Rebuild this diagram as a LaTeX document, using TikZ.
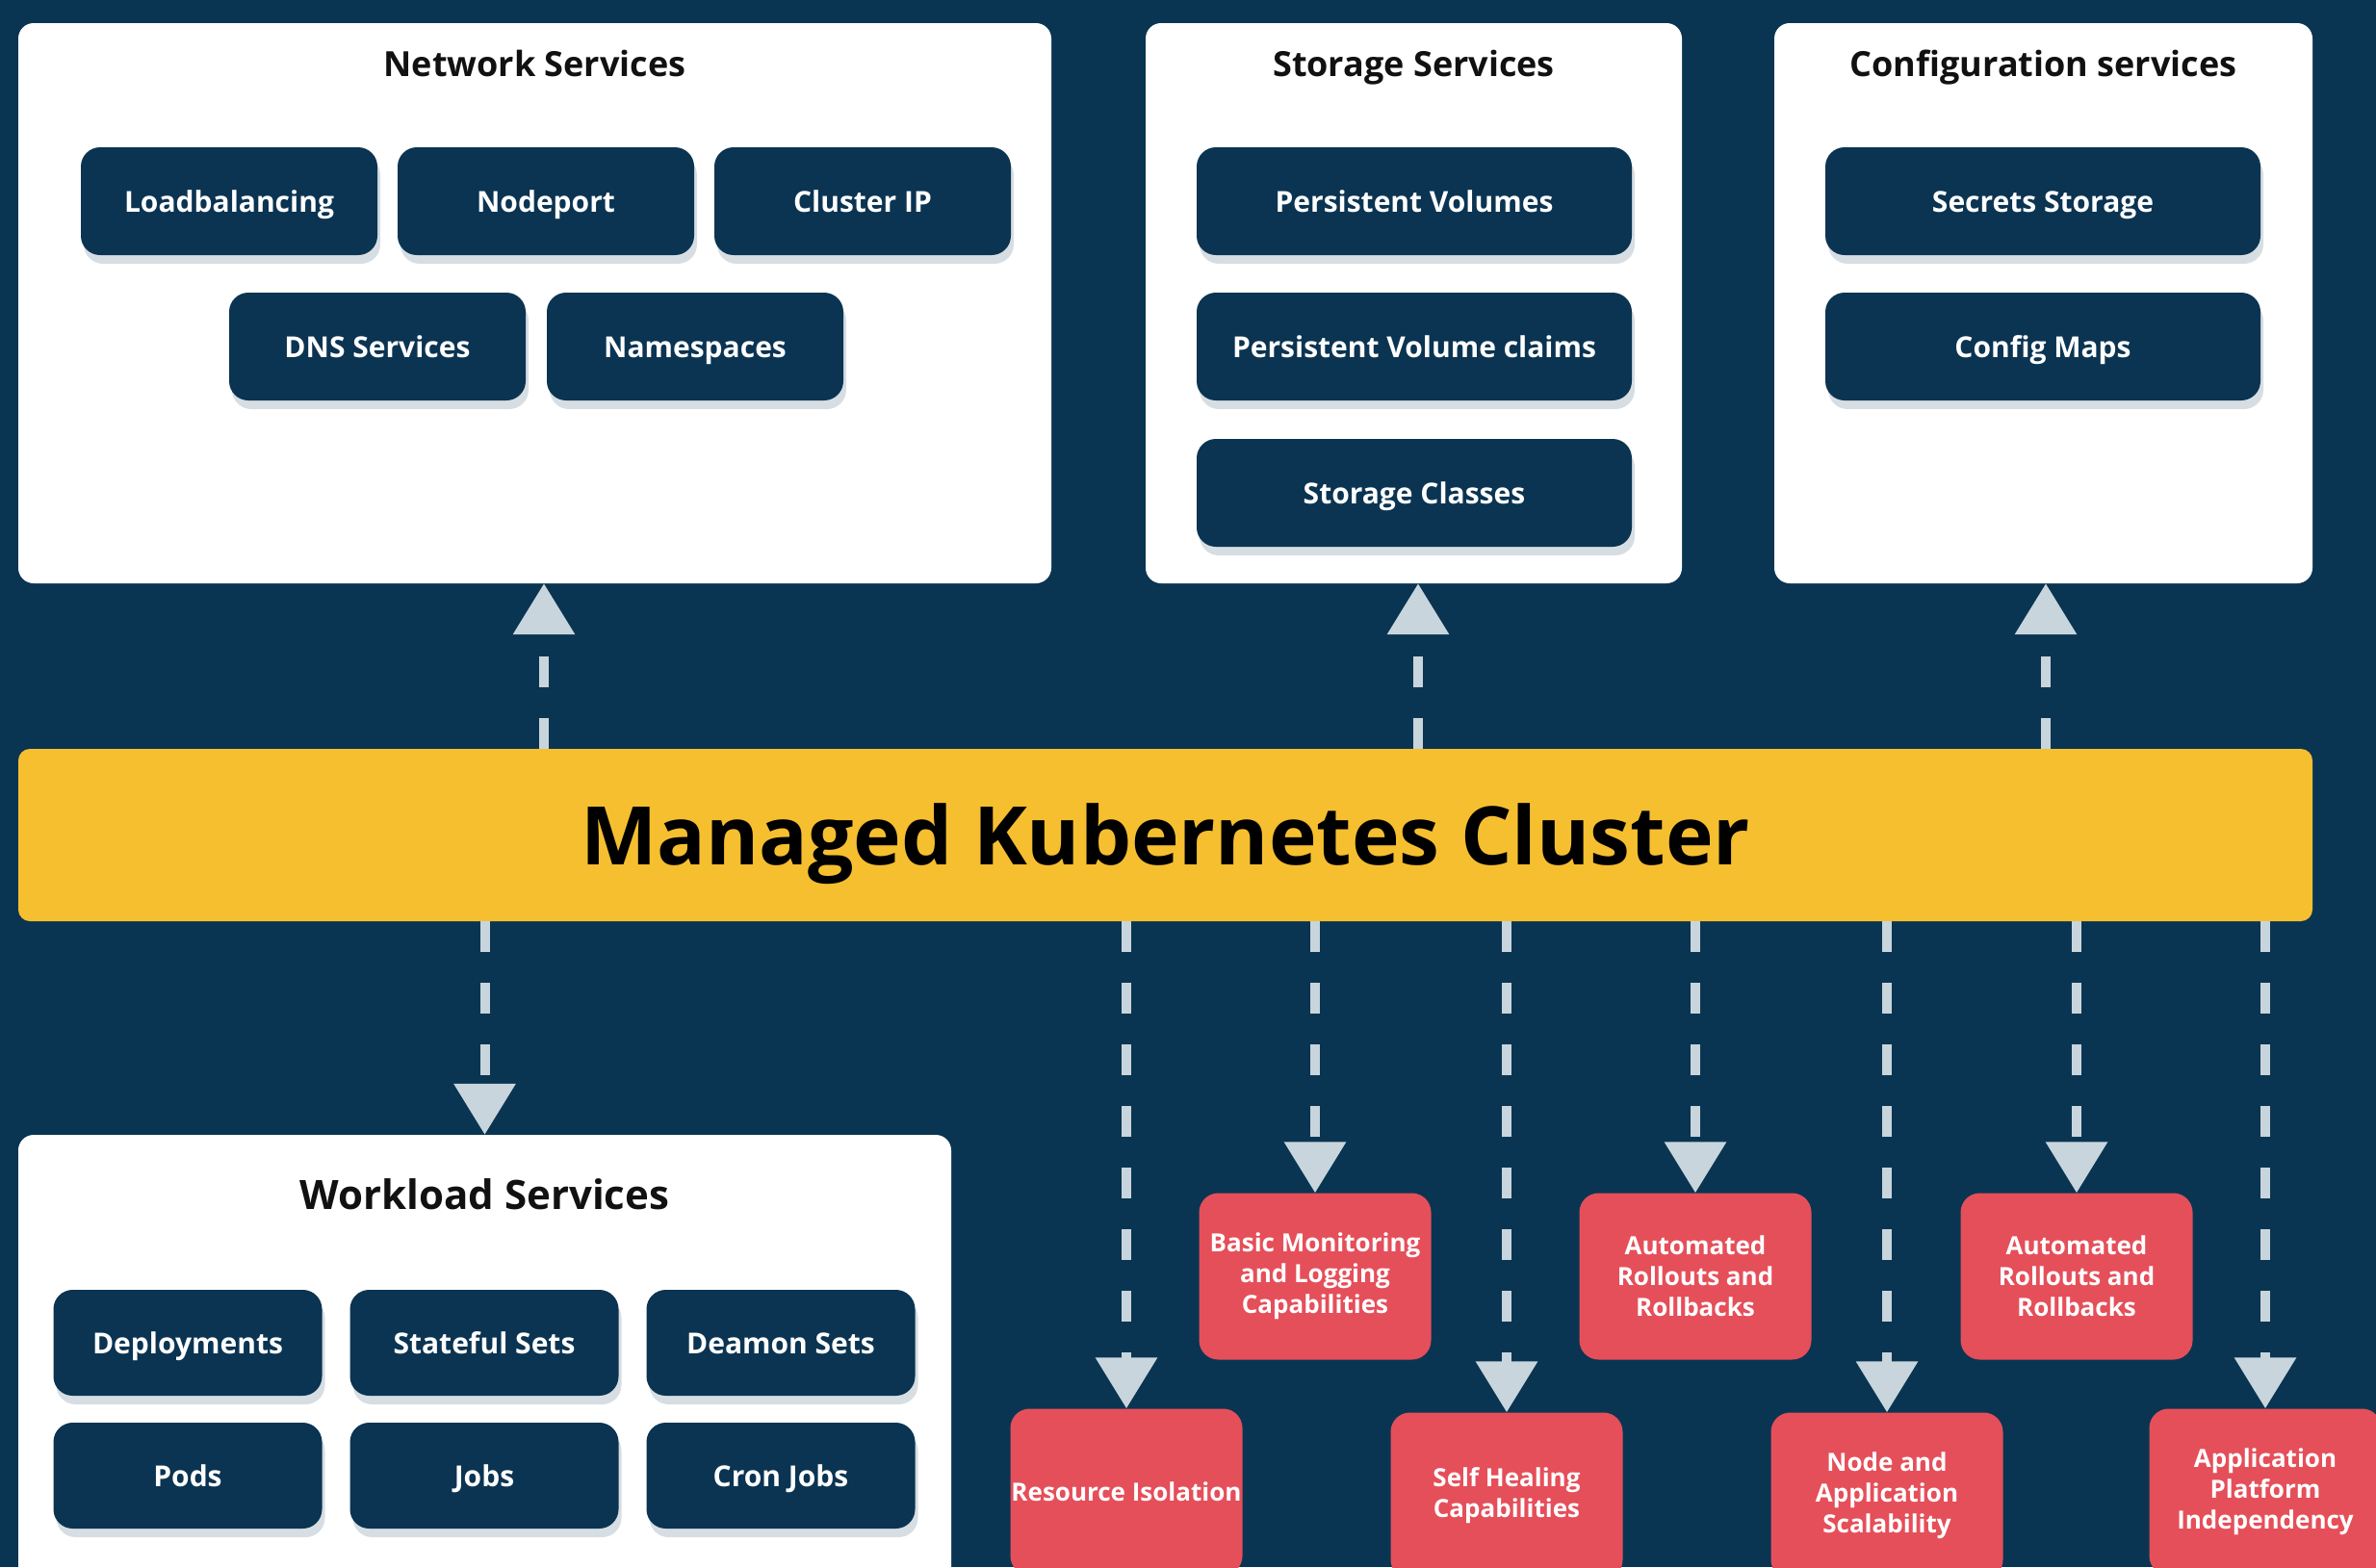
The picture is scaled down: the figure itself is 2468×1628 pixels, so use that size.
\documentclass[tikz,border=0pt]{standalone}
\usepackage{fontspec}
\setmainfont{Open Sans}
\usetikzlibrary{arrows.meta,shadows}
\definecolor{bg}{HTML}{0A3552}
\definecolor{boxnavy}{HTML}{0B3452}
\definecolor{clusteryellow}{HTML}{F6BF30}
\definecolor{redc}{HTML}{E54F5A}
\definecolor{arrowc}{HTML}{C8D5DD}
\definecolor{titleblack}{HTML}{111111}
\begin{document}
\begin{tikzpicture}[x=1pt,y=-1pt,
  panel/.style={fill=white, rounded corners=16pt, inner sep=0pt},
  paneltitle/.style={text=titleblack, font=\bfseries\fontsize{36}{42}\selectfont, inner sep=0pt,
    text height=26pt, text depth=0pt, anchor=center},
  navybox/.style={fill=boxnavy, rounded corners=20pt, text=white, inner sep=0pt,
    font=\bfseries\fontsize{30}{36}\selectfont, minimum height=112pt,
    text height=22pt, text depth=0pt,
    drop shadow={shadow xshift=3pt, shadow yshift=-9pt, opacity=0.16, fill=bg}},
  redbox/.style={fill=redc, rounded corners=20pt, text=white, align=center, inner sep=0pt,
    font=\bfseries\fontsize{26}{32}\selectfont, minimum width=241pt, minimum height=173pt},
  flow/.style={draw=arrowc, line width=10pt, dash pattern=on 32pt off 32pt,
    -{Triangle[width=62pt,length=53pt]}}
]
\useasboundingbox (0,0) rectangle (2468,1628);
\clip (0,0) rectangle (2468,1628);
\fill[bg] (0,0) rectangle (2468,1628);

% panels
\node[panel, minimum width=1073pt, minimum height=582pt] (net) at (555.5,315) {};
\node[panel, minimum width=557pt, minimum height=582pt] (stor) at (1468.5,315) {};
\node[panel, minimum width=559pt, minimum height=582pt] (conf) at (2122.5,315) {};
\node[panel, minimum width=969pt, minimum height=521pt] (work) at (503.5,1439.5) {};

\node[paneltitle] (nettitle) at (555.5,66) {Network Services};
\node[paneltitle] (stortitle) at (1468.5,66) {Storage Services};
\node[paneltitle] (conftitle) at (2122.5,66) {Configuration services};
\node[paneltitle, font=\bfseries\fontsize{42}{48}\selectfont, text height=30pt] (worktitle) at (503.5,1241) {Workload Services};

% network services
\node[navybox, minimum width=308pt] (lb) at (238,209) {Loadbalancing};
\node[navybox, minimum width=308pt] (np) at (567,209) {Nodeport};
\node[navybox, minimum width=308pt] (cip) at (896,209) {Cluster IP};
\node[navybox, minimum width=308pt] (dns) at (392,360) {DNS Services};
\node[navybox, minimum width=308pt] (ns) at (722,360) {Namespaces};

% storage services
\node[navybox, minimum width=452pt] (pv) at (1469,209) {Persistent Volumes};
\node[navybox, minimum width=452pt] (pvc) at (1469,360) {Persistent Volume claims};
\node[navybox, minimum width=452pt] (sc) at (1469,512) {Storage Classes};

% configuration services
\node[navybox, minimum width=452pt] (sec) at (2122,209) {Secrets Storage};
\node[navybox, minimum width=452pt] (cm) at (2122,360) {Config Maps};

% workload services
\node[navybox, minimum width=279pt, minimum height=110pt] (dep) at (195,1395) {Deployments};
\node[navybox, minimum width=279pt, minimum height=110pt] (sts) at (503,1395) {Stateful Sets};
\node[navybox, minimum width=279pt, minimum height=110pt] (ds) at (811,1395) {Deamon Sets};
\node[navybox, minimum width=279pt, minimum height=110pt] (pods) at (195,1533) {Pods};
\node[navybox, minimum width=279pt, minimum height=110pt] (jobs) at (503,1533) {Jobs};
\node[navybox, minimum width=279pt, minimum height=110pt] (cron) at (811,1533) {Cron Jobs};

% cluster bar
\node[fill=clusteryellow, rounded corners=12pt, minimum width=2383pt, minimum height=179pt,
  inner sep=0pt, text=black, text height=61pt, text depth=0pt,
  font=\bfseries\fontsize{84}{96}\selectfont] (cluster) at (1210.5,867.5)
  {Managed Kubernetes Cluster};

% red feature boxes
\node[redbox] (iso) at (1170,1550) {Resource Isolation};
\node[redbox] (mon) at (1366,1326) {Basic Monitoring\\and Logging\\Capabilities};
\node[redbox] (heal) at (1565,1554) {Self Healing\\Capabilities};
\node[redbox] (roll1) at (1761,1326) {Automated\\Rollouts and\\Rollbacks};
\node[redbox] (scale) at (1960,1554) {Node and\\Application\\Scalability};
\node[redbox] (roll2) at (2157,1326) {Automated\\Rollouts and\\Rollbacks};
\node[redbox] (indep) at (2353,1550) {Application\\Platform\\Independency};

% connectors up
\draw[flow] (cluster.north -| net.south) ++(9.5,0) coordinate (nstart) -- (nstart |- net.south);
\draw[flow] (cluster.north -| stor.south) ++(4.5,0) coordinate (sstart) -- (sstart |- stor.south);
\draw[flow] (cluster.north -| conf.south) ++(2.5,0) coordinate (cstart) -- (cstart |- conf.south);

% connector down to workload
\draw[flow] (cluster.south -| work.north) -- (work.north);

% connectors down to features
\foreach \n in {iso,mon,heal,roll1,scale,roll2,indep}
  \draw[flow] (cluster.south -| \n.north) -- (\n.north);
\end{tikzpicture}
\end{document}
